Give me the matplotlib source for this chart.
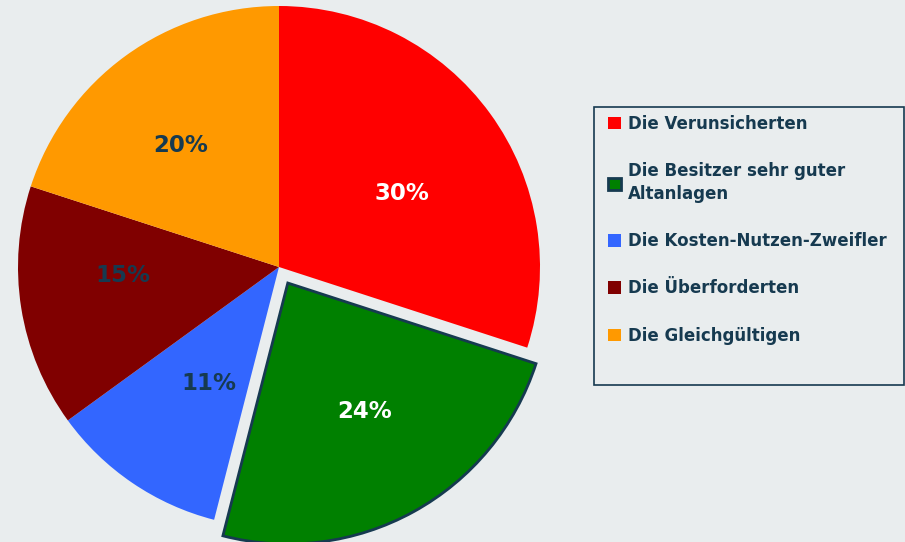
import numpy as np
import matplotlib.pyplot as plt
from matplotlib.patches import Rectangle

labels = ["Die Verunsicherten", "Die Besitzer sehr guter\nAltanlagen",
          "Die Kosten-Nutzen-Zweifler", "Die Überforderten", "Die Gleichgültigen"]
values = [30, 24, 11, 15, 20]
colors = ["#ff0000", "#008000", "#3366ff", "#800000", "#ff9900"]
explode = [0, 0.07, 0, 0, 0]
pct_colors = ["white", "white", "#163a50", "#163a50", "#163a50"]
pct_dist = [0.55, 0.575, 0.52, 0.6, 0.6]
pct_shift = [-5, 2, 3, -6, 3]  # degrees, label nudges

bg = "#e9edee"
navy = "#163a50"
W, H = 905, 542

fig = plt.figure(figsize=(W / 100, H / 100), dpi=100, facecolor=bg)
# pie centre at (279, 267) px, radius 261 px
cx, cy, r = 279, 267, 261
ax = fig.add_axes([(cx - r * 1.1) / W, 1 - (cy + r * 1.1) / H, 2.2 * r / W, 2.2 * r / H])

wedges, texts, autotexts = ax.pie(values, colors=colors, explode=explode, startangle=90,
                                  counterclock=False, autopct="%1.0f%%", pctdistance=0.6,
                                  radius=1, frame=True,
                                  textprops={"fontsize": 16.5, "fontweight": "bold"})
ax.set_xlim(-1.1, 1.1)
ax.set_ylim(-1.1, 1.1)
ax.axis("off")
wedges[1].set_edgecolor(navy)
wedges[1].set_linewidth(2)
for w, t, c, d, s in zip(wedges, autotexts, pct_colors, pct_dist, pct_shift):
    ang = np.deg2rad((w.theta1 + w.theta2) / 2 + s)
    x0, y0 = w.center
    t.set_position((x0 + d * np.cos(ang), y0 + d * np.sin(ang)))
    t.set_color(c)

# legend box
fig.patches.append(Rectangle((594 / W, 1 - 385 / H), 310 / W, 278 / H, transform=fig.transFigure,
                             facecolor=bg, edgecolor=navy, linewidth=1.2, zorder=0))
leg = fig.legend(wedges, labels, loc="upper left", bbox_to_anchor=(603 / W, 1 - 110 / H),
                 frameon=False, fontsize=12,
                 labelspacing=1.75, handlelength=0.75, handleheight=0.75, handletextpad=0.45,
                 borderpad=0.3, borderaxespad=0)
for t in leg.get_texts():
    t.set_color(navy)
    t.set_fontweight("bold")
    t.set_linespacing(1.35)

fig.savefig("out.png", dpi=100, facecolor=bg)
